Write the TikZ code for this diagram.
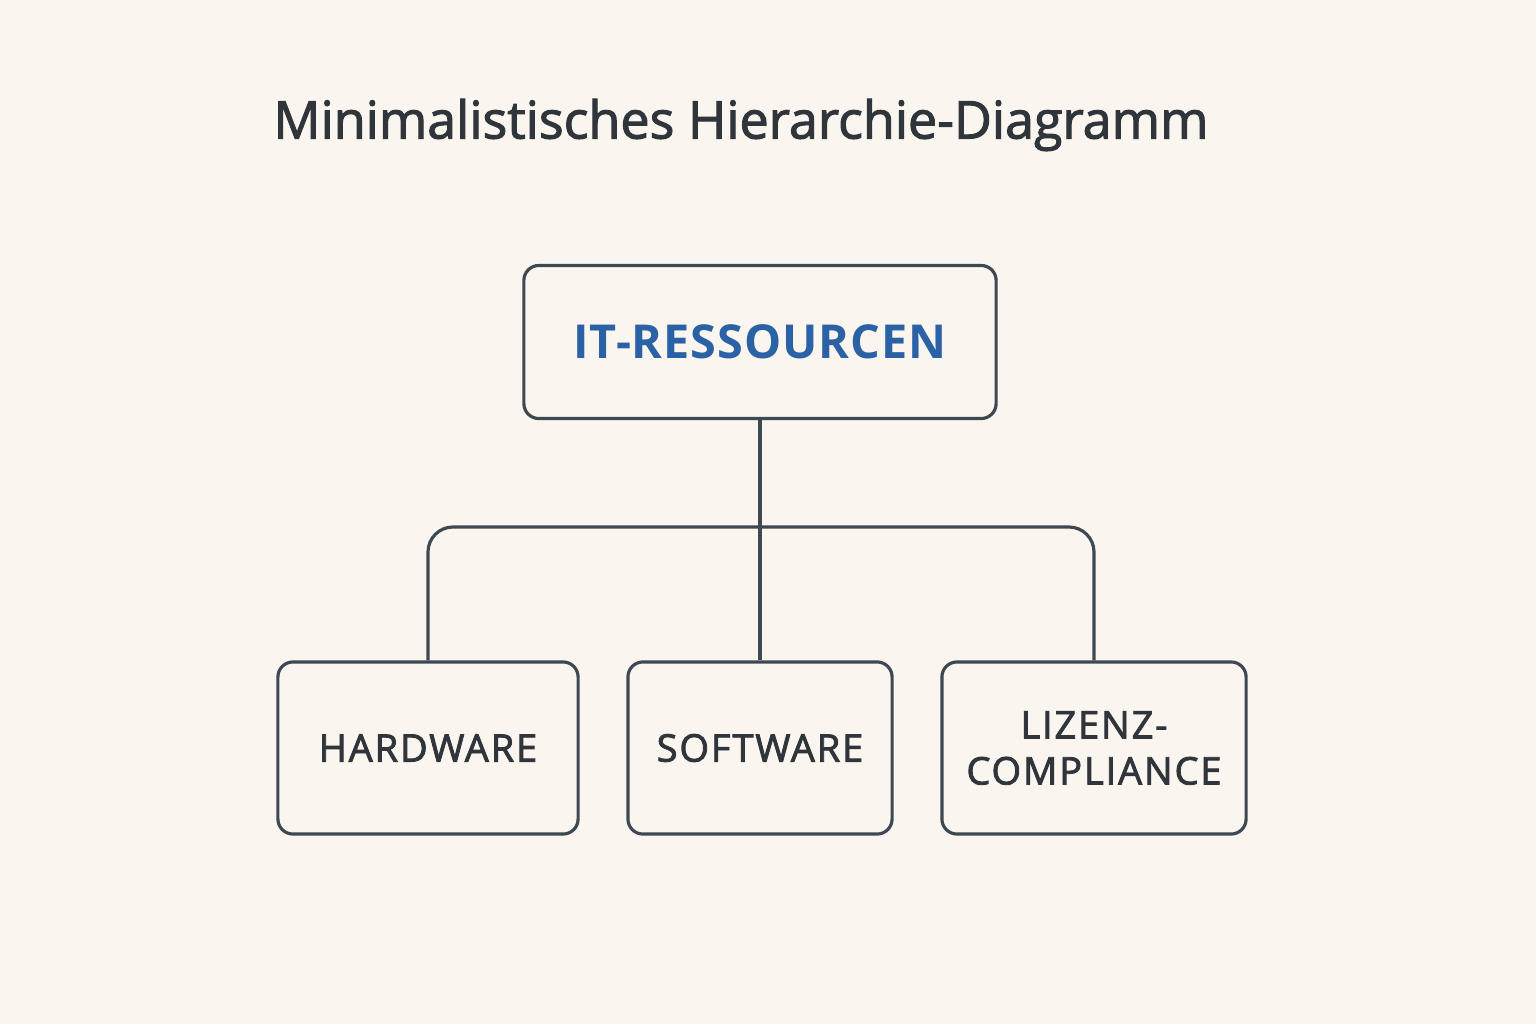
\documentclass[tikz,border=0pt]{standalone}
\usepackage{fontspec}
\setmainfont{Open Sans}
\newfontfamily\titelschrift[FakeBold=2]{Open Sans}
\newfontfamily\etikett[LetterSpace=5,FakeBold=2.2]{Open Sans}
\newfontfamily\wurzel[LetterSpace=2]{Open Sans}
\usepackage{tikz}
\definecolor{papier}{HTML}{FAF6EF}
\definecolor{linie}{HTML}{3D4852}
\definecolor{schrift}{HTML}{2F353B}
\definecolor{blau}{HTML}{2B62A6}
\tikzstyle{kasten}=[draw=linie,line width=0.9pt,rounded corners=0.15cm,fill=papier,align=center,inner sep=0pt]
\tikzstyle{blatt}=[kasten,minimum height=1.72cm,text=schrift,font=\etikett\fontsize{10.8}{13.1}\selectfont]

\begin{document}
\begin{tikzpicture}[x=0.01cm,y=-0.01cm]
    \fill [papier] (0,0) rectangle (1536,1024);
    \useasboundingbox (0,0) rectangle (1536,1024);
    \node [text=schrift,font=\titelschrift\fontsize{14.8}{18}\selectfont] (titel) at (741,125) {Minimalistisches Hierarchie-Diagramm};
    \node [kasten,minimum width=4.72cm,minimum height=1.53cm,text=blau,font=\wurzel\fontsize{13.3}{16}\selectfont\bfseries] (it) at (760,342) {IT-RESSOURCEN};
    \node [blatt,minimum width=3.0cm] (hw) at (428,748) {HARDWARE};
    \node [blatt,minimum width=2.64cm] (sw) at (760,748) {SOFTWARE};
    \node [blatt,minimum width=3.04cm] (lc) at (1094,748) {LIZENZ-\\COMPLIANCE};
    \coordinate (ast) at (760,527);
    \draw [linie,line width=0.9pt] (it.south) -- (sw.north);
    \draw [linie,line width=0.9pt,rounded corners=0.25cm] (hw.north) |- (ast) -| (lc.north);
\end{tikzpicture}
\end{document}
